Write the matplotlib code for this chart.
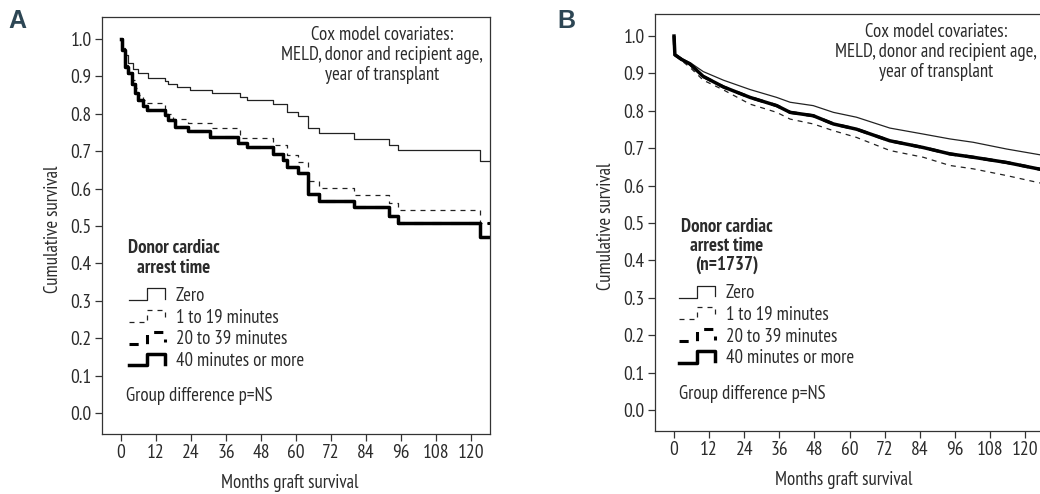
import numpy as np
import matplotlib
matplotlib.use('Agg')
import matplotlib.pyplot as plt
from matplotlib.lines import Line2D
from matplotlib.legend_handler import HandlerLine2D

plt.rcParams['font.family'] = ['PT Sans Narrow', 'Roboto Condensed', 'DejaVu Sans']
plt.rcParams['font.size'] = 13.5
txt_col = '#2b2b2b'

# Panel A - step curves (months, cumulative survival)
a_zero_t = [0, 0.4, 1.4, 2.5, 4.2, 5.9, 9.4, 15.1, 16.2, 19.1, 23.7, 31.1, 40.8, 43.1,
            52.2, 56.8, 60.8, 64.2, 68.0, 79.9, 92.0, 95.1, 123.1, 127]
a_zero_s = [1.0, 0.975, 0.957, 0.935, 0.921, 0.908, 0.897, 0.887, 0.880, 0.872, 0.864, 0.857,
            0.846, 0.837, 0.826, 0.806, 0.794, 0.761, 0.748, 0.733, 0.717, 0.703, 0.675, 0.675]

a_g1_t = [0, 0.5, 1.4, 2.5, 3.7, 4.8, 5.9, 7.6, 8.8, 15.1, 17.8, 23.1, 31.1, 40.8, 52.2,
          56.8, 60.8, 64.2, 68.0, 79.9, 92.0, 95.1, 123.1, 127]
a_g1_s = [1.0, 0.97, 0.93, 0.91, 0.89, 0.87, 0.85, 0.837, 0.828, 0.80, 0.785, 0.775, 0.761,
          0.735, 0.718, 0.69, 0.672, 0.621, 0.601, 0.583, 0.562, 0.543, 0.507, 0.507]

a_g2_t = [0, 0.5, 1.4, 2.5, 3.7, 4.8, 5.9, 7.6, 8.8, 15.1, 16.2, 18.5, 23.1, 30.5, 40.2, 43.1,
          52.2, 55.6, 56.8, 60.8, 64.2, 68.0, 79.9, 92.0, 95.1, 127]
a_g2_s = [1.0, 0.97, 0.926, 0.908, 0.88, 0.855, 0.837, 0.821, 0.810, 0.797, 0.783, 0.766,
          0.755, 0.737, 0.723, 0.712, 0.693, 0.677, 0.659, 0.641, 0.587, 0.568, 0.550, 0.527,
          0.507, 0.507]

a_g3_t = [0, 0.5, 1.4, 2.5, 3.7, 4.8, 5.9, 7.6, 8.8, 15.1, 16.2, 18.5, 23.1, 30.5, 40.2, 43.1,
          52.2, 55.6, 56.8, 60.8, 64.2, 68.0, 79.9, 92.0, 95.1, 123.1, 127]
a_g3_s = [1.0, 0.97, 0.926, 0.908, 0.88, 0.855, 0.837, 0.821, 0.810, 0.797, 0.783, 0.766,
          0.755, 0.737, 0.723, 0.712, 0.693, 0.677, 0.659, 0.641, 0.587, 0.568, 0.550, 0.527,
          0.507, 0.471, 0.471]

# Panel B - adjusted curves
b_t = [0, 0.3, 2.5, 5.5, 10, 16.9, 26, 35.1, 39.7, 47.6, 54.5, 62.4, 73.8, 85.2, 94.3, 102.3,
       113.7, 127]
b_zero_s = [1.0, 0.952, 0.940, 0.929, 0.905, 0.882, 0.857, 0.836, 0.823, 0.814, 0.796, 0.783,
            0.754, 0.738, 0.725, 0.716, 0.698, 0.680]
b_g1_s = [1.0, 0.950, 0.935, 0.916, 0.882, 0.856, 0.818, 0.796, 0.778, 0.765, 0.747, 0.729,
          0.694, 0.676, 0.654, 0.645, 0.627, 0.604]
b_g2_s = [1.0, 0.950, 0.938, 0.925, 0.892, 0.864, 0.836, 0.814, 0.796, 0.787, 0.765, 0.751,
          0.720, 0.702, 0.685, 0.676, 0.662, 0.641]
b_g3_s = [1.0, 0.950, 0.938, 0.925, 0.892, 0.864, 0.836, 0.814, 0.796, 0.787, 0.765, 0.751,
          0.720, 0.702, 0.685, 0.676, 0.662, 0.641]

groups = ['Zero', '1 to 19 minutes', '20 to 39 minutes', '40 minutes or more']
xticks = np.arange(0, 121, 12)
yticks = np.arange(0, 1.01, 0.1)

styles = [dict(color='#222222', lw=0.9, ls='-'),
          dict(color='#222222', lw=0.9, ls=(0, (4, 4))),
          dict(color='black', lw=2.2, ls=(0, (3, 3))),
          dict(color='black', lw=2.5, ls='-')]


class StepHandler(HandlerLine2D):
    def create_artists(self, legend, orig_handle, xdescent, ydescent, width, height,
                       fontsize, trans):
        x0, y0 = -xdescent, -ydescent
        xs = [x0, x0 + 0.5 * width, x0 + 0.5 * width, x0 + width, x0 + width]
        ys = [y0 + 0.05 * height, y0 + 0.05 * height, y0 + 0.95 * height,
              y0 + 0.95 * height, y0 + 0.15 * height]
        line = Line2D(xs, ys)
        self.update_prop(line, orig_handle, legend)
        line.set_transform(trans)
        return [line]


def setup(ax):
    ax.set_xlim(-6.5, 126.5)
    ax.set_ylim(-0.056, 1.059)
    ax.set_xticks(xticks)
    ax.set_yticks(yticks)
    ax.set_yticklabels(['%.1f' % v for v in yticks])
    ax.tick_params(direction='out', length=5, width=0.9, colors='#333333',
                   labelcolor=txt_col, labelsize=14, pad=2.5)
    for sp in ax.spines.values():
        sp.set_color('#333333')
        sp.set_linewidth(0.9)
    ax.set_ylabel('Cumulative survival', color=txt_col, fontsize=13.5)
    ax.set_xlabel('Months graft survival', color=txt_col, fontsize=13.5)
    ax.yaxis.set_label_coords(-0.103, 0.49)
    ax.xaxis.set_label_coords(0.485, -0.097)
    ax.text(0.722, 0.978, 'Cox model covariates:\nMELD, donor and recipient age,\nyear of transplant',
            transform=ax.transAxes, ha='center', va='top', color=txt_col, linespacing=1.15)


fig = plt.figure(figsize=(10.4, 4.94), dpi=100)

axA = fig.add_axes([102 / 1040, 1 - 434 / 494, 388 / 1040, 417 / 494])
setup(axA)
handles = []
for t, s, st, g in zip([a_zero_t, a_g1_t, a_g2_t, a_g3_t], [a_zero_s, a_g1_s, a_g2_s, a_g3_s],
                       styles, groups):
    h, = axA.step(t, s, where='post', label=g, **st)
    handles.append(h)
axA.text(0.184, 0.421, 'Donor cardiac\narrest time', transform=axA.transAxes, ha='center',
         va='center', fontweight='bold', color=txt_col, linespacing=1.15)
axA.legend(handles=handles, loc='upper left', bbox_to_anchor=(0.0696, 0.353), frameon=False,
           borderpad=0, borderaxespad=0, handlelength=1.9, handletextpad=0.6,
           labelspacing=0.2, handler_map={Line2D: StepHandler()}, labelcolor=txt_col)
axA.text(0.062, 0.091, 'Group difference p=NS', transform=axA.transAxes, ha='left',
         va='center', color=txt_col)
fig.text(17 / 1040, 1 - 21 / 494, 'A', ha='center', va='center', fontsize=18, fontweight='bold',
         color='#2d4654', family='Liberation Sans')

axB = fig.add_axes([655 / 1040, 1 - 431 / 494, 389 / 1040, 417 / 494])
setup(axB)
handles = []
for s, st, g in zip([b_zero_s, b_g1_s, b_g2_s, b_g3_s], styles, groups):
    h, = axB.plot(b_t, s, label=g, **st)
    handles.append(h)
axB.text(0.185, 0.444, 'Donor cardiac\narrest time\n(n=1737)', transform=axB.transAxes,
         ha='center', va='center', fontweight='bold', color=txt_col, linespacing=1.08)
axB.legend(handles=handles, loc='upper left', bbox_to_anchor=(0.0617, 0.352), frameon=False,
           borderpad=0, borderaxespad=0, handlelength=1.9, handletextpad=0.6,
           labelspacing=0.2, handler_map={Line2D: StepHandler()}, labelcolor=txt_col)
axB.text(0.0617, 0.089, 'Group difference p=NS', transform=axB.transAxes, ha='left',
         va='center', color=txt_col)
fig.text(566 / 1040, 1 - 21 / 494, 'B', ha='center', va='center', fontsize=18, fontweight='bold',
         color='#2d4654', family='Liberation Sans')

fig.savefig('out.png', dpi=100)
